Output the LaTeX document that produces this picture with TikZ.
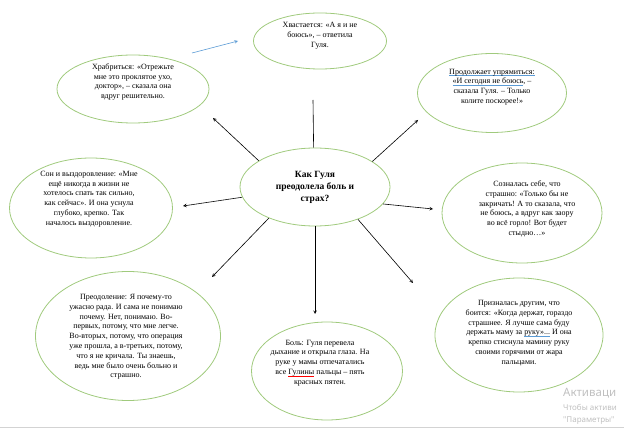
\documentclass[tikz,border=0pt]{standalone}
\usepackage{fontspec}
\setmainfont{Liberation Serif}
\newfontfamily\winfont{Noto Sans}
\usetikzlibrary{shapes.geometric}

\definecolor{bubblegreen}{RGB}{160,202,125}
\definecolor{markblue}{RGB}{91,155,213}
\definecolor{wmgray}{RGB}{192,192,192}

% spell-check marks
\newcommand{\markline}[2]{\setbox0\hbox{#2}\rlap{\textcolor{#1}{\rule[-1.6pt]{\wd0}{0.5pt}}}\box0\relax}
\newcommand{\bmark}[1]{\markline{markblue}{#1}}
\newcommand{\rmark}[1]{\markline{red}{#1}}

\tikzset{
  bubble/.style={ellipse, draw=bubblegreen, line width=0.8pt, inner sep=0pt},
  txt/.style={align=center, inner sep=0pt, font=\fontsize{8}{9.8}\selectfont},
  spoke/.style={->, >=stealth, line width=0.6pt},
  wm/.style={anchor=base west, inner sep=0pt, text=wmgray}
}

\begin{document}
\begin{tikzpicture}[x=1pt,y=-1pt]
\useasboundingbox (0,0) rectangle (624,430);

%sredina
\node[bubble, minimum width=150pt, minimum height=78pt, align=center,
  font=\fontsize{9.5}{12}\bfseries] (ctr) at (315,187) {Как Гуля\\преодолела боль и\\страх?};

%okolica
\node[bubble, minimum width=133pt, minimum height=56pt] (boast) at (320,41) {};
\node[txt] (boast-t) at (320,36) {Хвастается: «А я и не\\боюсь», – ответила\\Гуля.};

\node[bubble, minimum width=152pt, minimum height=68pt] (brave) at (133,89) {};
\node[txt] (brave-t) at (133,82) {Храбриться: «Отрежьте\\мне это проклятое ухо,\\доктор», – сказала она\\вдруг решительно.};

\node[bubble, minimum width=149pt, minimum height=79pt] (stub) at (492,93) {};
\node[txt] (stub-t) at (492,87) {\bmark{Продолжает упрямиться:}\\\bmark{«И сегодня не боюсь}, –\\сказала Гуля. – Только\\колите поскорее!»};

\node[bubble, minimum width=163pt, minimum height=100pt] (sleep) at (91,208) {};
\node[txt] (sleep-t) at (89,199) {Сон и выздоровление: «Мне\\ещё никогда в жизни не\\хотелось спать так сильно,\\как сейчас». И она уснула\\глубоко, крепко. Так\\началось выздоровление.};

\node[bubble, minimum width=160pt, minimum height=100pt] (self) at (522,213) {};
\node[txt] (self-t) at (527,209) {Созналась себе, что\\страшно: «Только бы не\\закричать! А то сказала, что\\не боюсь, а вдруг как заору\\во всё горло! Вот будет\\стыдно…»};

\node[bubble, minimum width=185pt, minimum height=129pt] (over) at (128,336) {};
\node[txt] (over-t) at (126,337) {Преодоление: Я почему-то\\ужасно рада. И сама не понимаю\\почему. Нет, понимаю. Во-\\первых, потому, что мне легче.\\Во-вторых, потому, что операция\\уже прошла, а в-третьих, потому,\\что я не кричала. Ты знаешь,\\ведь мне было очень больно и\\страшно.};

\node[bubble, minimum width=151pt, minimum height=98pt] (pain) at (327,371) {};
\node[txt] (pain-t) at (320,363) {Боль: Гуля перевела\\дыхание и открыла глаза. На\\руке у мамы отпечатались\\все \rmark{Гулины} пальцы – пять\\красных пятен.};

\node[bubble, minimum width=168pt, minimum height=114pt] (others) at (519,335) {};
\node[txt] (others-t) at (519,333) {Призналась другим, что\\боится: «Когда держат, гораздо\\страшнее. Я лучше сама буду\\держать маму за \bmark{руку»...} И она\\крепко стиснула мамину руку\\своими горячими от жара\\пальцами.};

%konci puscic
\coordinate (up-end) at (313,100);
\coordinate (ul-end) at (213,118);
\coordinate (ur-end) at (418,120);
\coordinate (l-end) at (183,206);
\coordinate (r-end) at (433,209);
\coordinate (dl-end) at (212,277);
\coordinate (d-end) at (315,314);
\coordinate (dr-end) at (413,283);
\coordinate (blue-start) at (192,53);
\coordinate (blue-end) at (238,41);

\draw[line width=0.6pt] (ctr.92) -- (up-end);
\draw[spoke] (ctr.155) -- (ul-end);
\draw[spoke] (ctr.24) -- (ur-end);
\draw[spoke] (ctr.188) -- (l-end);
\draw[spoke] (ctr.346) -- (r-end);
\draw[spoke] (ctr.214) -- (dl-end);
\draw[spoke] (ctr.270) -- (d-end);
\draw[spoke] (ctr.323) -- (dr-end);
\draw[spoke, markblue] (blue-start) -- (blue-end);

%vodni znak
\draw[wmgray!70, line width=0.5pt] (0,427) -- (624,427);
\node[wm, font=\winfont\fontsize{11.5}{12}\selectfont] (wm1) at (563,396) {Активаци};
\node[wm, font=\winfont\fontsize{8}{9}\selectfont] (wm2) at (563,410) {Чтобы активи};
\node[wm, font=\winfont\fontsize{8}{9}\selectfont] (wm3) at (563,422) {"Параметры"};
\end{tikzpicture}
\end{document}
